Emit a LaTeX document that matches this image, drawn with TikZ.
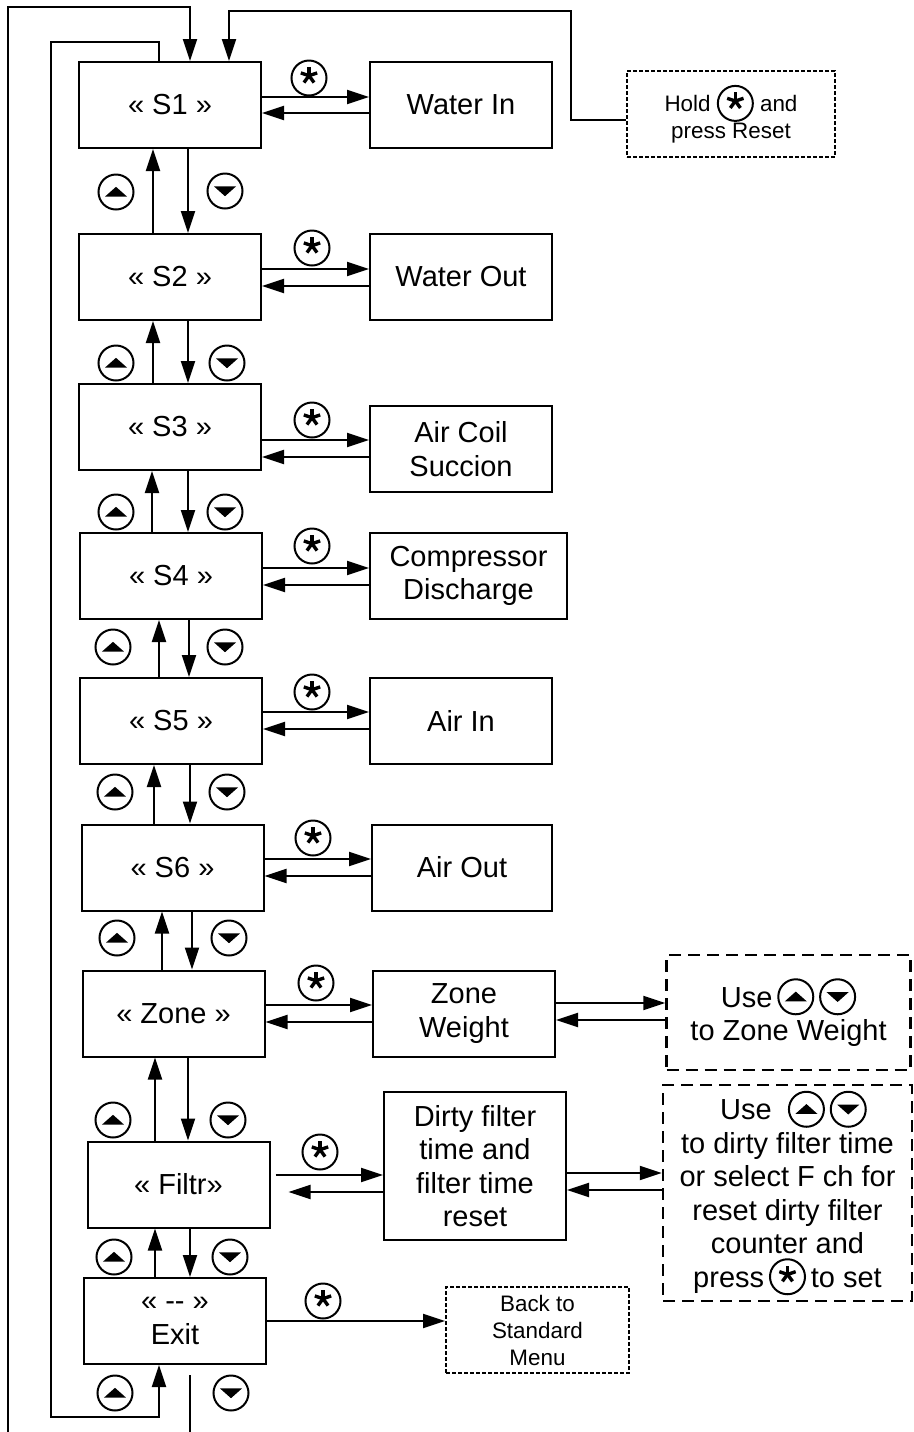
\documentclass[tikz,border=0pt]{standalone}
\usepackage{fontspec}
\setmainfont{Liberation Sans}
\usetikzlibrary{arrows.meta}

% key symbols, also used inside the text
\newcommand\upkey{\tikz[baseline=-0.36em, x=1pt, y=1pt, line width=1pt]{%
  \draw (0,0) circle (8.75); \fill (-5.5,-2.3) -- (5.5,-2.3) -- (0,2.6) -- cycle;}}
\newcommand\downkey{\tikz[baseline=-0.36em, x=1pt, y=1pt, line width=1pt]{%
  \draw (0,0) circle (8.75); \fill (-5.5,2.3) -- (5.5,2.3) -- (0,-2.6) -- cycle;}}
\newcommand\starkey{\tikz[baseline=-0.36em, x=1pt, y=1pt, line width=1pt]{%
  \draw (0,0) circle (8.75);
  \foreach \a in {90,18,162,234,306} { \draw[line width=1.7pt] (0,1.2) -- ++(\a:4.3); }}}

\begin{document}
\begin{tikzpicture}[x=0.5pt, y=-0.5pt, line width=1pt,
  >={Triangle[length=11pt,width=7pt]},
  box/.style={draw, line width=1pt, minimum width=91pt, minimum height=43pt, inner sep=2pt,
    align=center, font=\fontsize{14.5}{16.75}\selectfont},
  note/.style={draw, line width=1pt, dash pattern=on 2pt off 1pt, minimum width=91.5pt,
    minimum height=43pt, align=center, font=\fontsize{11.2}{13.5}\selectfont},
  hint/.style={draw, line width=1.2pt, dash pattern=on 6pt off 3.5pt, inner sep=0pt,
    align=center, font=\fontsize{14.5}{16.75}\selectfont},
  keyicon/.style={inner sep=0pt}]
  \useasboundingbox (0,0) rectangle (914,1432);

  % menu column
  \node[box] (s1) at (170,105) {« S1 »};
  \node[box] (s2) at (170,277) {« S2 »};
  \node[box] (s3) at (170,427) {« S3 »};
  \node[box] (s4) at (171,576) {« S4 »};
  \node[box] (s5) at (171,721) {« S5 »};
  \node[box] (s6) at (172.5,867.5) {« S6 »};
  \node[box] (zone) at (173.5,1013.5) {« Zone »};
  \node[box] (filtr) at (178.5,1184.5) {« Filtr»};
  \node[box] (exit) at (175,1321) {« -{}- »\\Exit};

  % values
  \node[box] (win) at (461,105) {Water In};
  \node[box] (wout) at (461,277) {Water Out};
  \node[box] (coil) at (461,449) {Air Coil\\Succion};
  \node[box, minimum width=98.5pt] (comp) at (468.5,576) {Compressor\\Discharge};
  \node[box] (ain) at (461,721) {Air In};
  \node[box, minimum width=90pt] (aout) at (462,867.5) {Air Out};
  \node[box] (zw) at (464,1013.5) {Zone\\Weight};
  \node[box, minimum height=74pt] (dirty) at (475,1166) {Dirty filter\\time and\\filter time\\reset};

  % notes
  \node[note, minimum width=104pt] (hold) at (731,114) {Hold \starkey\ and\\press Reset};
  \node[note] (back) at (537.5,1330) {Back to\\Standard\\Menu};
  \node[hint, minimum width=122pt, minimum height=57.5pt] (use1) at (788.5,1012.5)
    {Use\,\upkey\,\downkey\\to Zone Weight};
  \node[hint, minimum width=124.5pt, minimum height=108pt] (use2) at (787.5,1193)
    {\hspace*{6pt}Use\ \ \upkey\,\downkey\\to dirty filter time\\or select F ch for\\reset dirty filter\\counter and\\press\,\starkey\,to set};

  % enter / back
  \foreach \a/\b/\yr/\yl in {s1/win/97/113, s2/wout/269/286, s3/coil/440/457, s4/comp/568/585,
      s5/ain/712/729, s6/aout/859/876, zone/zw/1005/1022} {
    \draw[->] (\a.east |- 0,\yr) -- (\b.west |- 0,\yr);
    \draw[->] (\b.west |- 0,\yl) -- (\a.east |- 0,\yl);
  }
  \draw[->, shorten <=2.5pt] (filtr.east |- 0,1175) -- (dirty.west |- 0,1175);
  \draw[->, shorten >=9pt] (dirty.west |- 0,1192) -- (filtr.east |- 0,1192);
  \draw[->] (zw.east |- 0,1003) -- (use1.west |- 0,1003);
  \draw[->] (use1.west |- 0,1020) -- (zw.east |- 0,1020);
  \draw[->] (dirty.east |- 0,1173) -- (use2.west |- 0,1173);
  \draw[->] (use2.west |- 0,1190) -- (dirty.east |- 0,1190);
  \draw[->] (exit.east |- 0,1321) -- (back.west |- 0,1321);

  % up / down
  \foreach \a/\b/\xu/\xd in {s1/s2/153/188, s2/s3/153/188, s3/s4/152/188, s4/s5/159/189,
      s5/s6/154/190, s6/zone/162/192, zone/filtr/155/188, filtr/exit/155/190} {
    \draw[->] (\b.north -| \xu,0) -- (\a.south -| \xu,0);
    \draw[->] (\a.south -| \xd,0) -- (\b.north -| \xd,0);
  }

  % wrap round
  \coordinate (wrapL) at (8,1432);
  \coordinate (wrapR) at (190,1432);
  \coordinate (exitdn) at (190,1375);
  \draw[->] (wrapL) |- (190,7) -- (s1.north -| 190,0);
  \draw (exitdn) -- (wrapR);
  \draw[->] (s1.north -| 159,0) -- (159,42) -- (51,42) -- (51,1417) -- (159,1417) -- (exit.south -| 159,0);
  \draw[->] ([yshift=-3pt]hold.west) -| (571,11) -| (s1.north -| 229,0);

  % keys
  \foreach \n/\x/\y in {1/116/192, 2/116/363, 3/116/512, 4/113/647, 5/115/792, 6/117/938,
      7/113/1120, 8/114/1257, 9/115/1393} { \node[keyicon] (up\n) at (\x,\y) {\upkey}; }
  \foreach \n/\x/\y in {1/225/191, 2/227/363, 3/225/512, 4/225/647, 5/227/792, 6/229/938,
      7/228/1120, 8/230/1257, 9/231/1393} { \node[keyicon] (dn\n) at (\x,\y) {\downkey}; }
  \foreach \n/\x/\y in {1/309/78, 2/312/248, 3/312/420, 4/312/546, 5/312/692, 6/313/838,
      7/316/983, 8/320/1152, 9/323/1301} { \node[keyicon] (st\n) at (\x,\y) {\starkey}; }
\end{tikzpicture}
\end{document}
